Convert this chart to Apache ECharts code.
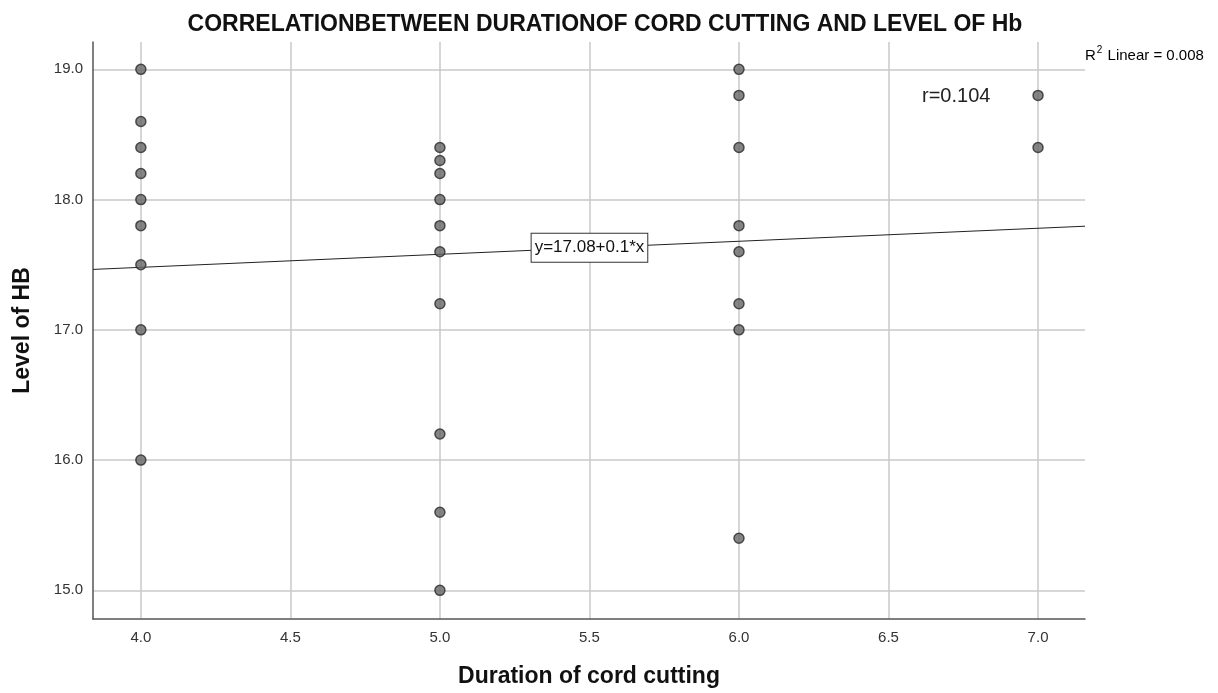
<!DOCTYPE html>
<html><head><meta charset="utf-8">
<script src="https://cdn.jsdelivr.net/npm/echarts@6/dist/echarts.min.js"></script>
<style>html,body{margin:0;padding:0;background:#fff}#c{width:1218px;height:693px}</style>
</head><body><div id="c"></div>
<script>
const durations = [4, 4, 4, 4, 4, 4, 4, 4, 4,
  5, 5, 5, 5, 5, 5, 5, 5, 5, 5,
  6, 6, 6, 6, 6, 6, 6, 6,
  7, 7];
const hbLevels = [19.0, 18.6, 18.4, 18.2, 18.0, 17.8, 17.5, 17.0, 16.0,
  18.4, 18.3, 18.2, 18.0, 17.8, 17.6, 17.2, 16.2, 15.6, 15.0,
  19.0, 18.8, 18.4, 17.8, 17.6, 17.2, 17.0, 15.4,
  18.8, 18.4];
const fitIntercept = 17.08;
const fitSlope = 0.1;
const fitXs = [3.84, 5.5, 7.157];
const xTicks = [4.0, 4.5, 5.0, 5.5, 6.0, 6.5, 7.0];
const yTicks = [15.0, 16.0, 17.0, 18.0, 19.0];

const points = durations.map((d, i) => [d, hbLevels[i]]);
const fitLine = fitXs.map(x => [x, fitIntercept + fitSlope * x]);
const FONT = '"Liberation Sans", Arial, sans-serif';

const chart = echarts.init(document.getElementById('c'), null, {renderer: 'canvas'});
chart.setOption({
  backgroundColor: '#fff',
  animation: false,
  title: {
    text: 'CORRELATIONBETWEEN DURATIONOF CORD CUTTING AND LEVEL OF Hb',
    left: 600, top: 8, textAlign: 'center',
    textStyle: {fontFamily: FONT, fontSize: 23, fontWeight: 'bold', color: '#111'}
  },
  grid: {left: 93, right: 133, top: 42, bottom: 72, containLabel: false},
  xAxis: {
    type: 'value', min: 3.84, max: 7.157,
    name: 'Duration of cord cutting', nameLocation: 'middle', nameGap: 46,
    nameTextStyle: {fontFamily: FONT, fontSize: 23, fontWeight: 'bold', color: '#111'},
    axisLine: {show: true, lineStyle: {color: '#555', width: 1.5}},
    axisTick: {show: false, customValues: xTicks},
    splitLine: {show: true, lineStyle: {color: '#c8c8c8', width: 1.5}},
    axisLabel: {
      fontFamily: FONT, fontSize: 15, color: '#333', margin: 11,
      customValues: xTicks,
      formatter: v => v.toFixed(1)
    }
  },
  yAxis: {
    type: 'value', min: 14.78, max: 19.21,
    name: 'Level of HB', nameLocation: 'middle', nameGap: 59, nameRotate: 90,
    nameTextStyle: {fontFamily: FONT, fontSize: 23, fontWeight: 'bold', color: '#111'},
    axisLine: {show: true, lineStyle: {color: '#555', width: 1.5}},
    axisTick: {show: false, customValues: yTicks},
    splitLine: {show: true, lineStyle: {color: '#c8c8c8', width: 1.5}},
    axisLabel: {
      fontFamily: FONT, fontSize: 15, color: '#333', margin: 10,
      customValues: yTicks,
      formatter: v => v.toFixed(1)
    }
  },
  series: [
    {
      type: 'line',
      data: fitLine,
      symbol: 'none',
      lineStyle: {color: '#222', width: 1},
      z: 3,
      silent: true,
      markPoint: {
        symbol: 'rect', symbolSize: 1,
        itemStyle: {color: 'transparent'},
        data: [{coord: fitLine[1], value: 'y=17.08+0.1*x'}],
        label: {
          show: true, position: 'inside',
          formatter: 'y=17.08+0.1*x',
          fontFamily: FONT, fontSize: 17, color: '#111',
          backgroundColor: '#fff', borderColor: '#333', borderWidth: 1,
          padding: [6, 3, 5, 3]
        }
      }
    },
    {
      type: 'scatter',
      data: points,
      symbol: 'circle',
      symbolSize: 10,
      itemStyle: {color: '#666', borderColor: '#2a2a2a', borderWidth: 1.5},
      z: 5
    }
  ],
  graphic: [
    {
      type: 'text', left: 1085, top: 45,
      style: {
        text: '{r|R}{s|2}{r| Linear = 0.008}',
        rich: {
          r: {fontFamily: FONT, fontSize: 15, color: '#222', verticalAlign: 'bottom'},
          s: {fontFamily: FONT, fontSize: 10, color: '#222', verticalAlign: 'top', padding: [0, 1, 8, 1]}
        }
      }
    },
    {
      type: 'text', left: 922, top: 86,
      style: {text: 'r=0.104', fontFamily: FONT, fontSize: 20, fill: '#222'}
    }
  ]
});
</script></body></html>
